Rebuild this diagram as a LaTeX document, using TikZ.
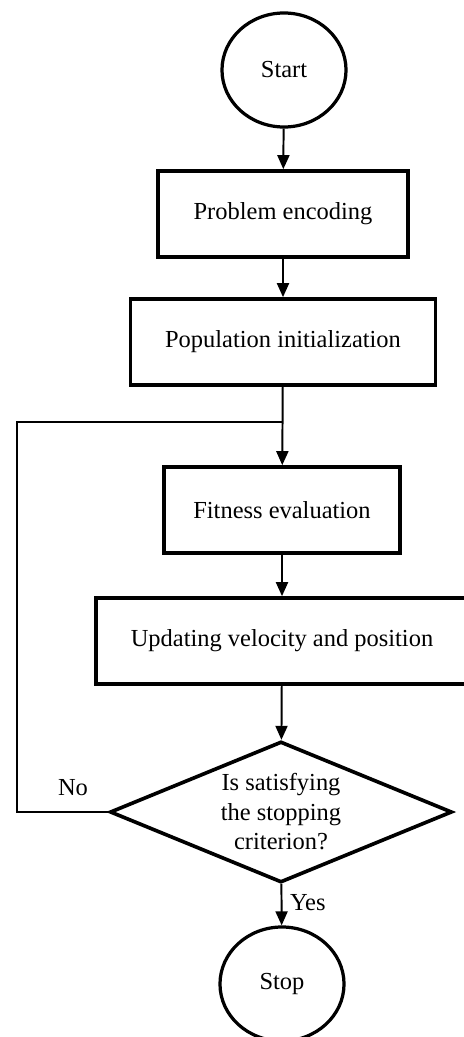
\documentclass[tikz,border=0pt]{standalone}
\usepackage{fontspec}
\setmainfont{Liberation Serif}
\usetikzlibrary{arrows.meta,shapes.geometric}

\begin{document}
\begin{tikzpicture}[x=0.025cm, y=-0.025cm,
font=\fontsize{17.4}{21}\selectfont,
block/.style = {draw, line width=2.6pt, minimum height=2.15cm, inner sep=0pt},
term/.style = {draw, ellipse, line width=2.3pt, minimum width=3.1cm, minimum height=2.85cm},
decide/.style = {draw, diamond, line width=2.6pt, aspect=2.43, inner sep=0pt,
    minimum width=8.55cm, minimum height=3.525cm, align=center},
line/.style = {line width=1.4pt},
flow/.style = {line, -{Triangle[width=0.3cm, length=0.35cm]}}]
\useasboundingbox (0,0) rectangle (463,1037);
\node[term] (start) at (284,70) {Start};
\node[block, minimum width=6.25cm] (enc) at (283,214) {Problem encoding};
\node[block, minimum width=7.625cm] (pop) at (283,342) {Population initialization};
\node[block, minimum width=5.9cm] (fit) at (282,510) {Fitness evaluation};
\node[block, minimum width=9.3cm] (upd) at (282,641) {Updating velocity and position};
\node[decide] (dec) at (281,812) {Is satisfying\\the stopping\\criterion?};
\node[term] (stop) at (282,984) {Stop};
\coordinate (join) at (283,422);
\coordinate (back) at (17,812);
\draw[flow] (start) -- (enc);
\draw[flow] (enc) -- (pop);
\draw[flow] (pop) -- (fit);
\draw[flow] (fit) -- (upd);
\draw[flow] (upd) -- (dec);
\draw[flow] (dec) -- (stop) node[pos=0.45, right=2pt] (yes) {Yes};
\draw[line] (dec.west) -- (back) |- (join);
\node (no) at (73,788) {No};
\end{tikzpicture}
\end{document}
